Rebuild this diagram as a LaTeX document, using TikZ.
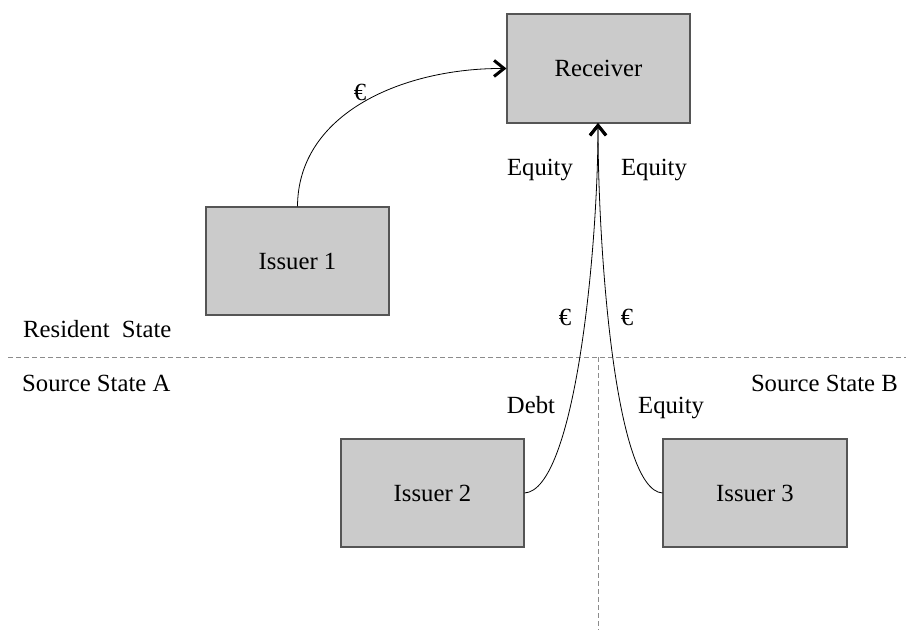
\documentclass[tikz,border=0pt]{standalone}
\usepackage{fontspec}
\setmainfont{Liberation Serif}
\usetikzlibrary{arrows.meta}
\definecolor{boxfill}{HTML}{CBCBCB}
\definecolor{boxline}{HTML}{555555}
\definecolor{dashcol}{HTML}{8C8C8C}
\begin{document}
\begin{tikzpicture}[x=1pt,y=-1pt,
  font=\fontsize{24.7}{28}\selectfont,
  entity/.style={draw=boxline,fill=boxfill,line width=1.1pt,inner sep=0pt},
  flow/.style={line width=0.8pt,-{Straight Barb[length=10pt,width=16pt,line width=3pt 0 1]}},
  border/.style={dashcol,line width=1pt,dash pattern=on 5pt off 3pt},
  lbl/.style={inner sep=0pt}]
\useasboundingbox (0,0) rectangle (906,630);
% boxes
\node[entity,minimum width=183pt,minimum height=109pt] (rec) at (598.5,68.5) {Receiver};
\node[entity,minimum width=183pt,minimum height=108pt] (is1) at (297.5,261) {Issuer 1};
\node[entity,minimum width=183pt,minimum height=108pt] (is2) at (432.5,493) {Issuer 2};
\node[entity,minimum width=184pt,minimum height=108pt] (is3) at (755,493) {Issuer 3};
% borders
\coordinate (hl) at (8,357);
\coordinate (hr) at (906,357);
\coordinate (vt) at (598,357);
\coordinate (vb) at (598,630);
\draw[border] (hl) -- (hr);
\draw[border] (vt) -- (vb);
% connectors
\coordinate (recb) at (598,123);
\draw[flow] (is1.north) .. controls (298,112) and (405,68) .. (rec.west);
\draw[flow] (is2.east) .. controls (575,490) and (598,250) .. (recb);
\draw[flow] (is3.west) .. controls (615,490) and (598,250) .. (recb);
% labels
\node[lbl,anchor=base] (e1) at (360,100) {€};
\node[lbl,anchor=base] (eqL) at (540,175) {Equity};
\node[lbl,anchor=base] (eqR) at (654,175) {Equity};
\node[lbl,anchor=base] (e2) at (565,325) {€};
\node[lbl,anchor=base] (e3) at (627,325) {€};
\node[lbl,anchor=base] (debt) at (531,413) {Debt};
\node[lbl,anchor=base west] (eq3) at (638,413) {Equity};
\node[lbl,anchor=base west] (res) at (23,337) {Resident\ \ State};
\node[lbl,anchor=base west] (ssa) at (22,391) {Source State A};
\node[lbl,anchor=base east] (ssb) at (898,391) {Source State B};
\end{tikzpicture}
\end{document}
